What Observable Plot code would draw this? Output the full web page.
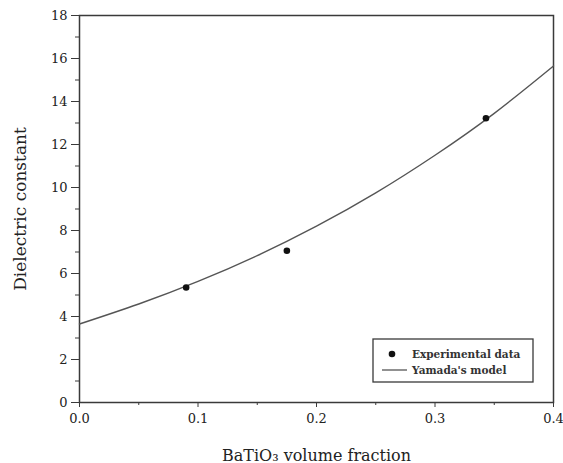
<!DOCTYPE html>
<html><head><meta charset="utf-8">
<script src="https://cdn.jsdelivr.net/npm/d3@7"></script>
<script src="https://cdn.jsdelivr.net/npm/@observablehq/plot@0.6"></script>
<style>body{margin:0;background:#fff}</style>
</head><body><div id="chart"></div>
<script>
// Experimental data points
const expFraction = [0.090, 0.175, 0.343];
const expConstant = [5.35, 7.06, 13.22];
// Yamada's model curve
const modelFraction = [0, 0.05, 0.1, 0.15, 0.2, 0.25, 0.3, 0.35, 0.4];
const modelConstant = [3.65, 4.58, 5.63, 6.83, 8.2, 9.75, 11.5, 13.45, 15.65];
// Ticks
const xTicks = [0, 0.1, 0.2, 0.3, 0.4];
const xTickLabels = ["0.0", "0.1", "0.2", "0.3", "0.4"];
const xMinorTicks = [0.05, 0.15, 0.25, 0.35];
const yTicks = [0, 2, 4, 6, 8, 10, 12, 14, 16, 18];
const yMinorTicks = [1, 3, 5, 7, 9, 11, 13, 15, 17];
const legendLabels = ["Experimental data", "Yamada's model"];
const xTitle = "BaTiO₃ volume fraction";
const yTitle = "Dielectric constant";

const expData = expFraction.map((x, i) => ({x, y: expConstant[i]}));
const modelData = modelFraction.map((x, i) => ({x, y: modelConstant[i]}));

const serif = "'DejaVu Serif', 'Liberation Serif', serif";
const ink = "#3a3a3a";

function legendMark(index, scales, values, dimensions) {
  const {width, height, marginRight, marginBottom} = dimensions;
  const bw = 160, bh = 43;
  const x0 = width - marginRight - 20 - bw;
  const y0 = height - marginBottom - 20 - bh;
  const g = d3.create("svg:g");
  g.append("rect").attr("x", x0).attr("y", y0).attr("width", bw).attr("height", bh)
    .attr("fill", "white").attr("stroke", ink).attr("stroke-width", 1.3);
  g.append("circle").attr("cx", x0 + 19).attr("cy", y0 + 15).attr("r", 3.3).attr("fill", "#111");
  g.append("line").attr("x1", x0 + 9).attr("x2", x0 + 34).attr("y1", y0 + 31).attr("y2", y0 + 31)
    .attr("stroke", "#555").attr("stroke-width", 1.3);
  legendLabels.forEach((t, i) => {
    g.append("text").attr("x", x0 + 39).attr("y", y0 + 15 + i * 16).attr("dy", "0.35em")
      .attr("text-anchor", "start")
      .attr("font-family", serif).attr("font-size", 10.5).attr("font-weight", "bold")
      .attr("fill", "#333").text(t);
  });
  return g.node();
}

const chart = Plot.plot({
  width: 563,
  height: 463,
  marginLeft: 79,
  marginRight: 10,
  marginTop: 15,
  marginBottom: 61,
  style: {fontFamily: serif, background: "white", color: ink},
  x: {domain: [0, 0.4]},
  y: {domain: [0, 18]},
  marks: [
    Plot.frame({stroke: ink, strokeWidth: 1.5}),
    Plot.axisX(xMinorTicks, {tickSize: 3, tickFormat: null, label: null, text: null}),
    Plot.axisX(xTicks, {tickSize: 5, tickPadding: 6, tickFormat: (d, i) => xTickLabels[i],
      fontSize: 13, fill: "#222", label: xTitle, labelAnchor: "center", labelOffset: 58, labelArrow: "none"}),
    Plot.axisY(yMinorTicks, {tickSize: 4, tickFormat: null, label: null, text: null}),
    Plot.axisY(yTicks, {tickSize: 8, tickPadding: 4, fontSize: 13, fill: "#222",
      label: yTitle, labelAnchor: "center", labelOffset: 66, labelArrow: "none"}),
    Plot.line(modelData, {x: "x", y: "y", curve: "natural", stroke: "#555", strokeWidth: 1.4}),
    Plot.dot(expData, {x: "x", y: "y", r: 3.3, fill: "#111"}),
    legendMark
  ]
});

d3.select(chart).selectAll("[aria-label='x-axis label'] text").attr("font-size", 16);
d3.select(chart).selectAll("[aria-label='y-axis label'] text").attr("font-size", 17);
document.getElementById("chart").appendChild(chart);
</script>
</body></html>
